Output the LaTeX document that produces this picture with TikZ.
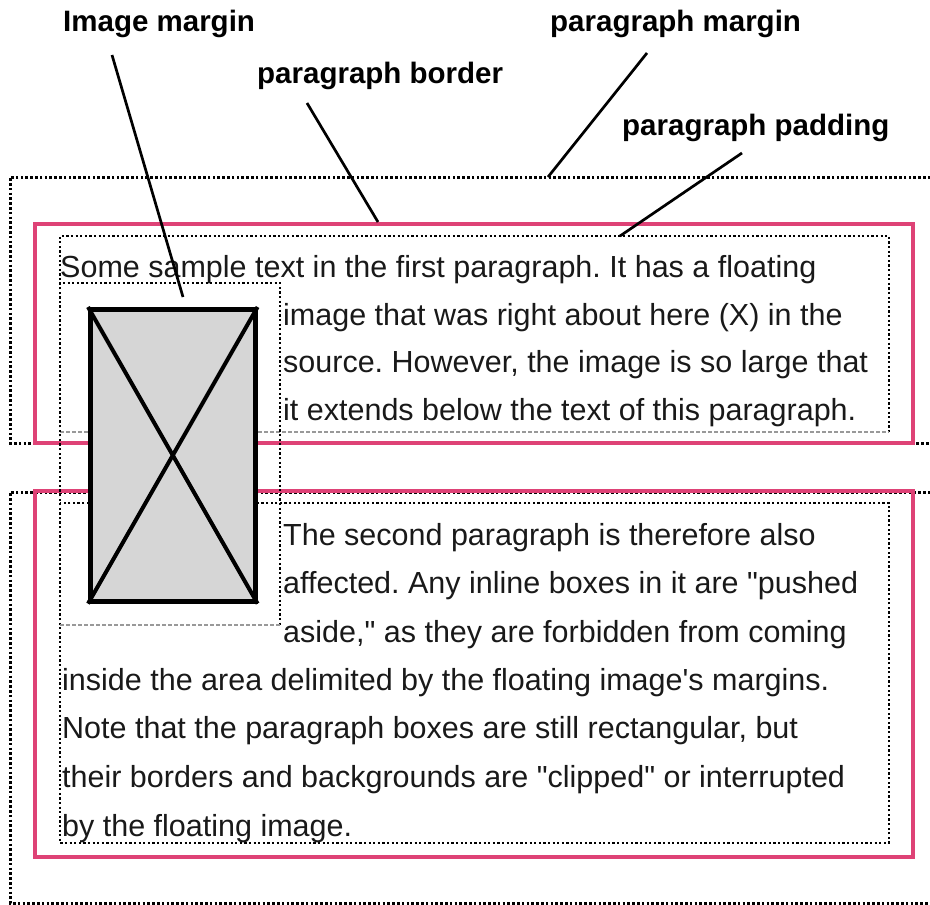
\documentclass[tikz,border=0pt]{standalone}
\usepackage{fontspec}
\setmainfont{Liberation Sans}[Ligatures=TeXOff]
\frenchspacing
\definecolor{pinkb}{RGB}{222,66,118}
\tikzset{
  marginline/.style={line width=3pt, dash pattern=on 2.6pt off 2.2pt, black},
  padline/.style={line width=2.4pt, dash pattern=on 2.2pt off 2.4pt, black},
  grayline/.style={line width=2.6pt, dash pattern=on 4pt off 2pt, black!40},
  borderline/.style={line width=4.8pt, pinkb},
  leader/.style={line width=2.7pt, black},
  lbl/.style={font=\fontsize{29.5}{34}\selectfont\bfseries, inner sep=0pt, anchor=base west},
  body/.style={font=\fontsize{30.5}{36}\selectfont, inner sep=0pt, anchor=base west, text=black!90},
}
\begin{document}
\begin{tikzpicture}[x=1pt,y=-1pt]
\useasboundingbox (0,0) rectangle (930,905);
\begin{scope}
\clip (0,0) rectangle (930,905);
% paragraph margins
\draw[marginline] (940,177) -- (10,177) -- (10,443) -- (940,443);
\draw[marginline] (940,492) -- (10,492) -- (10,903) -- (940,903);
% paragraph borders
\draw[borderline] (35,224) rectangle (913,443);
\draw[borderline] (35,491) rectangle (913,857);
% paragraph paddings
\draw[padline] (60,432) -- (60,236) -- (889,236) -- (889,432);
\draw[grayline] (60,432) -- (889,432);
\draw[padline] (60,503) rectangle (889,843);
% text paragraph 1
\node[body] (t1) at (60,277) {Some sample text in the first paragraph. It has a floating};
\node[body] (t2) at (283,325) {image that was right about here (X) in the};
\node[body] (t3) at (283,372) {source. However, the image is so large that};
\node[body] (t4) at (283,420) {it extends below the text of this paragraph.};
% text paragraph 2
\node[body] (u1) at (283,545) {The second paragraph is therefore also};
\node[body] (u2) at (283,593) {affected. Any inline boxes in it are "pushed};
\node[body] (u3) at (283,642) {aside," as they are forbidden from coming};
\node[body] (u4) at (62,690) {inside the area delimited by the floating image's margins.};
\node[body] (u5) at (62,738) {Note that the paragraph boxes are still rectangular, but};
\node[body] (u6) at (62,787) {their borders and backgrounds are "clipped" or interrupted};
\node[body] (u7) at (62,836) {by the floating image.};
% image margin box
\draw[padline] (60,625) -- (60,283) -- (280,283) -- (280,625);
\draw[grayline] (60,625) -- (280,625);
% image
\node[draw=black, line width=4.6pt, fill=black!16, minimum width=165pt, minimum height=292pt, inner sep=0pt, anchor=north west] (img) at (88,307) {};
\draw[line width=4pt] (img.north west) -- (img.south east);
\draw[line width=4pt] (img.north east) -- (img.south west);
% labels
\node[lbl] (limg) at (63,31) {Image margin};
\node[lbl] (lmar) at (550,31) {paragraph margin};
\node[lbl] (lbor) at (257,83) {paragraph border};
\node[lbl] (lpad) at (622,135) {paragraph padding};
\coordinate (eimg) at (183,297);
\coordinate (ebor) at (378,222);
\coordinate (emar) at (548,177);
\coordinate (epad) at (620,236);
\coordinate (simg) at (112,55);
\coordinate (sbor) at (307,103);
\coordinate (smar) at (647,53);
\coordinate (spad) at (742,153);
\draw[leader] (simg) -- (eimg);
\draw[leader] (sbor) -- (ebor);
\draw[leader] (smar) -- (emar);
\draw[leader] (spad) -- (epad);
\end{scope}
\end{tikzpicture}
\end{document}
